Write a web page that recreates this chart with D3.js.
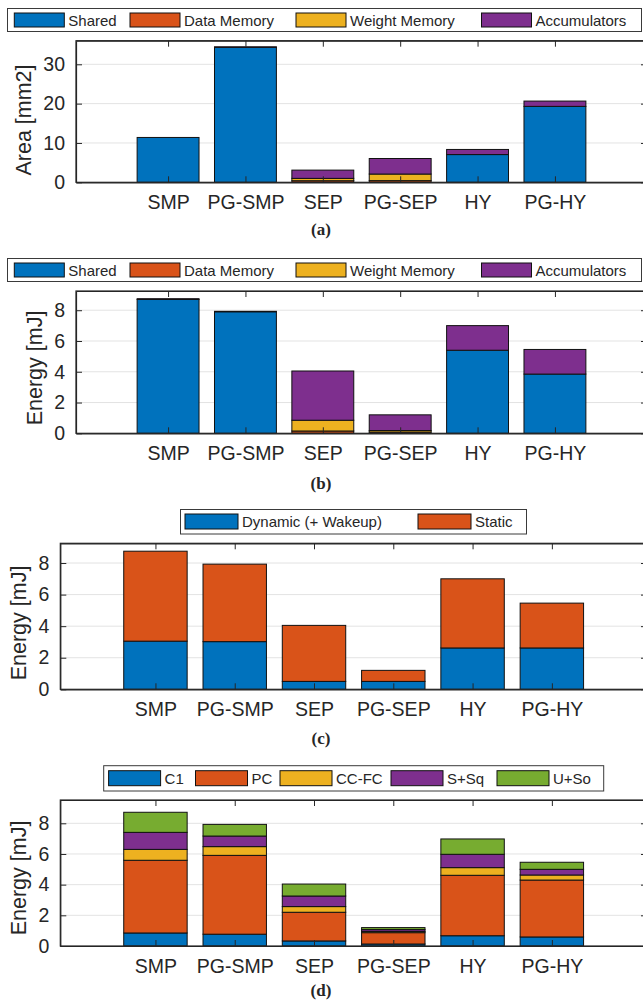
<!DOCTYPE html>
<html lang="en">
<head>
<meta charset="UTF-8">
<title>Area and energy per configuration</title>
<script src="https://cdn.jsdelivr.net/npm/d3@7"></script>
<style>
    body { margin: 0; background: #fff; }
    svg { display: block; }
    text { font-family: "Liberation Sans", Arial, Helvetica, sans-serif; fill: #262626; }
    .caption { font-family: "Liberation Serif", "Times New Roman", serif; font-weight: bold; }
</style>
</head>
<body>
<div id="chart"></div>
<script>
    // categories and series
    const categories = ['SMP', 'PG-SMP', 'SEP', 'PG-SEP', 'HY', 'PG-HY'];
    const memorySeries = ['Shared', 'Data Memory', 'Weight Memory', 'Accumulators'];
    const phaseSeries = ['Dynamic (+ Wakeup)', 'Static'];
    const layerSeries = ['C1', 'PC', 'CC-FC', 'S+Sq', 'U+So'];

    // (a) area [mm2]
    const areaShared = [11.4, 34.3, 0, 0, 7.05, 19.3];
    const areaData = [0, 0, 0.4, 0.42, 0, 0];
    const areaWeight = [0, 0, 0.6, 1.68, 0, 0];
    const areaAcc = [0, 0.15, 2.1, 3.95, 1.3, 1.35];

    // (b) energy per memory [mJ]
    const energyShared = [8.7, 7.9, 0, 0, 5.4, 3.85];
    const energyData = [0, 0, 0.15, 0.08, 0, 0];
    const energyWeight = [0, 0, 0.7, 0.1, 0, 0];
    const energyAcc = [0.05, 0.03, 3.2, 1.02, 1.6, 1.6];

    // (c) dynamic / static energy [mJ]
    const dynamicEnergy = [3.05, 3.02, 0.5, 0.5, 2.62, 2.62];
    const staticEnergy = [5.7, 4.91, 3.55, 0.7, 4.38, 2.84];

    // (d) energy per layer [mJ]
    const c1Energy = [0.85, 0.77, 0.33, 0.13, 0.67, 0.59];
    const pcEnergy = [4.74, 5.14, 1.87, 0.74, 3.94, 3.71];
    const ccfcEnergy = [0.71, 0.57, 0.37, 0.08, 0.5, 0.33];
    const ssqEnergy = [1.11, 0.69, 0.69, 0.12, 0.87, 0.37];
    const usoEnergy = [1.31, 0.76, 0.78, 0.13, 1.0, 0.46];

    // tick labels
    const areaTicks = [0, 10, 20, 30];
    const energyTicks = [0, 2, 4, 6, 8];

    const colors = ['#0072BD', '#D95319', '#EDB120', '#7E2F8E', '#77AC30'];
    const axisColor = '#262626';

    const svg = d3.select('#chart')
        .append('svg')
        .attr('width', 643)
        .attr('height', 1006);

    // build the rows the stack layout needs from the arrays
    function makeRows(keys, arrays) {
        return categories.map((c, i) => {
            const row = { cat: c, idx: i };
            keys.forEach((k, j) => row[k] = arrays[j][i]);
            return row;
        });
    }

    function drawPanel(p) {
        const g = svg.append('g');
        const right = 647;

        const x = d3.scaleLinear()
            .domain([1 - p.pad, 6 + p.pad])
            .range([p.left, right]);
        const y = d3.scaleLinear()
            .domain([0, p.ymax])
            .range([p.bottom, p.top]);

        // grid
        g.append('g')
            .selectAll('line')
            .data(p.ticks.filter(t => t > 0))
            .enter()
            .append('line')
            .attr('x1', p.left).attr('x2', right)
            .attr('y1', d => y(d)).attr('y2', d => y(d))
            .attr('stroke', '#e3e3e3')
            .attr('stroke-width', 1);

        // stacked bars
        const rows = makeRows(p.keys, p.values);
        const stacked = d3.stack().keys(p.keys)(rows);
        const bw = x(0.8) - x(0);

        stacked.forEach((layer, li) => {
            g.append('g')
                .selectAll('rect')
                .data(layer.filter(d => d[1] - d[0] > 0))
                .enter()
                .append('rect')
                .attr('x', d => x(d.data.idx + 1) - bw / 2)
                .attr('width', bw)
                .attr('y', d => y(d[1]))
                .attr('height', d => y(d[0]) - y(d[1]))
                .attr('fill', colors[li])
                .attr('stroke', '#111')
                .attr('stroke-width', 1);
        });

        // axes, ticks pointing inwards like matlab
        const xAxis = d3.axisBottom(x)
            .tickValues(d3.range(1, 7))
            .tickFormat(d => categories[d - 1])
            .tickSizeInner(-6)
            .tickSizeOuter(0)
            .tickPadding(12);
        const xg = g.append('g')
            .attr('transform', `translate(0, ${p.bottom})`)
            .call(xAxis);
        xg.selectAll('text').style('font-size', '19.5px').attr('fill', axisColor).attr('dy', '0.75em');

        const xTop = d3.axisTop(x).tickValues(d3.range(1, 7)).tickFormat('').tickSizeInner(-6).tickSizeOuter(0);
        g.append('g').attr('transform', `translate(0, ${p.top})`).call(xTop);

        const yAxis = d3.axisLeft(y)
            .tickValues(p.ticks)
            .tickSizeInner(-6)
            .tickSizeOuter(0)
            .tickPadding(11);
        const yg = g.append('g')
            .attr('transform', `translate(${p.left}, 0)`)
            .call(yAxis);
        yg.selectAll('text').style('font-size', '19.5px').attr('fill', axisColor);

        const yRight = d3.axisRight(y).tickValues(p.ticks).tickFormat('').tickSizeInner(-6).tickSizeOuter(0);
        g.append('g').attr('transform', `translate(${right}, 0)`).call(yRight);

        g.selectAll('.domain').attr('stroke', axisColor).attr('stroke-width', 1.2);
        g.selectAll('.tick line').attr('stroke', axisColor);

        // box
        g.append('rect')
            .attr('x', p.left).attr('y', p.top)
            .attr('width', right - p.left).attr('height', p.bottom - p.top)
            .attr('fill', 'none')
            .attr('stroke', axisColor)
            .attr('stroke-width', 1.2);

        // y label
        g.append('text')
            .attr('transform', `translate(${p.labelX}, ${p.labelY}) rotate(-90)`)
            .attr('text-anchor', 'middle')
            .attr('dominant-baseline', 'central')
            .style('font-size', '21.5px')
            .text(p.ylabel);

        // legend
        const lg = g.append('g');
        lg.append('rect')
            .attr('x', p.legend.x0).attr('y', p.legend.y0)
            .attr('width', p.legend.x1 - p.legend.x0)
            .attr('height', p.legend.y1 - p.legend.y0)
            .attr('fill', '#fff')
            .attr('stroke', '#3a3a3a')
            .attr('stroke-width', 1);
        p.keys.forEach((k, i) => {
            lg.append('rect')
                .attr('x', p.legend.sx[i])
                .attr('y', p.legend.sy)
                .attr('width', p.legend.sw)
                .attr('height', p.legend.sh)
                .attr('fill', colors[i])
                .attr('stroke', '#111')
                .attr('stroke-width', 1);
            lg.append('text')
                .attr('x', p.legend.sx[i] + p.legend.sw + 4)
                .attr('y', p.legend.sy + p.legend.sh / 2)
                .attr('dominant-baseline', 'central')
                .style('font-size', '15px')
                .text(k);
        });

        // caption
        g.append('text')
            .attr('class', 'caption')
            .attr('x', 321)
            .attr('y', p.captionY)
            .attr('text-anchor', 'middle')
            .attr('dominant-baseline', 'central')
            .style('font-size', '17px')
            .text(p.caption);
    }

    drawPanel({
        keys: memorySeries,
        values: [areaShared, areaData, areaWeight, areaAcc],
        left: 76, top: 40.7, bottom: 182.3, pad: 1.19,
        ymax: 36, ticks: areaTicks,
        ylabel: 'Area [mm2]', labelX: 24, labelY: 120,
        legend: { x0: 7.5, x1: 641.5, y0: 8.5, y1: 31.5, sx: [14.3, 130, 296, 481.5], sy: 13, sw: 50, sh: 14 },
        caption: '(a)', captionY: 229
    });

    drawPanel({
        keys: memorySeries,
        values: [energyShared, energyData, energyWeight, energyAcc],
        left: 76, top: 291, bottom: 433.3, pad: 1.19,
        ymax: 9.25, ticks: energyTicks,
        ylabel: 'Energy [mJ]', labelX: 35, labelY: 368,
        legend: { x0: 7.5, x1: 641.5, y0: 258.5, y1: 281.5, sx: [14.3, 130, 296, 481.5], sy: 263, sw: 50, sh: 14 },
        caption: '(b)', captionY: 483
    });

    drawPanel({
        keys: phaseSeries,
        values: [dynamicEnergy, staticEnergy],
        left: 60.3, top: 543.3, bottom: 689.3, pad: 1.2,
        ymax: 9.25, ticks: energyTicks,
        ylabel: 'Energy [mJ]', labelX: 19, labelY: 623,
        legend: { x0: 180.5, x1: 526.5, y0: 509.5, y1: 534, sx: [185, 418], sy: 514, sw: 53, sh: 15 },
        caption: '(c)', captionY: 738
    });

    drawPanel({
        keys: layerSeries,
        values: [c1Energy, pcEnergy, ccfcEnergy, ssqEnergy, usoEnergy],
        left: 60.3, top: 800, bottom: 946, pad: 1.2,
        ymax: 9.52, ticks: energyTicks,
        ylabel: 'Energy [mJ]', labelX: 19, labelY: 878,
        legend: { x0: 103.7, x1: 603.7, y0: 765.7, y1: 791, sx: [108.6, 195.5, 280, 391, 497], sy: 770.7, sw: 52, sh: 15 },
        caption: '(d)', captionY: 990
    });
</script>
</body>
</html>
